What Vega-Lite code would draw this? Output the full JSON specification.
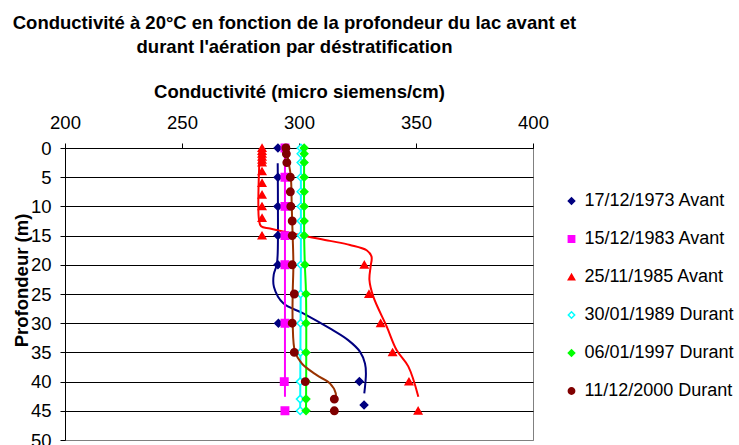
{
  "$schema": "https://vega.github.io/schema/vega-lite/v6.json",
  "autosize": {"type": "none"},
  "padding": {"left": 65, "top": 148, "right": 206, "bottom": 5},
  "width": 468,
  "height": 292,
  "background": "white",
  "title": {
    "text": ["Conductivité à 20°C en fonction de la profondeur du lac avant et", "durant l'aération par déstratification"],
    "font": "Liberation Sans",
    "fontSize": 18.5,
    "fontWeight": "bold",
    "color": "black",
    "anchor": "middle",
    "frame": "group",
    "lineHeight": 23.5,
    "offset": 26,
    "dx": -4.5
  },
  "datasets": {
    "markers": [
      {"series": "17/12/1973 Avant", "depth": 0, "value": 291},
      {"series": "17/12/1973 Avant", "depth": 5, "value": 291},
      {"series": "17/12/1973 Avant", "depth": 10, "value": 291},
      {"series": "17/12/1973 Avant", "depth": 15, "value": 291},
      {"series": "17/12/1973 Avant", "depth": 20, "value": 291},
      {"series": "17/12/1973 Avant", "depth": 30, "value": 291.2},
      {"series": "17/12/1973 Avant", "depth": 40, "value": 325.8},
      {"series": "17/12/1973 Avant", "depth": 44, "value": 327.8},
      {"series": "15/12/1983 Avant", "depth": 0, "value": 294},
      {"series": "15/12/1983 Avant", "depth": 5, "value": 294},
      {"series": "15/12/1983 Avant", "depth": 10, "value": 294},
      {"series": "15/12/1983 Avant", "depth": 15, "value": 294},
      {"series": "15/12/1983 Avant", "depth": 20, "value": 294},
      {"series": "15/12/1983 Avant", "depth": 30, "value": 294},
      {"series": "15/12/1983 Avant", "depth": 40, "value": 293.7},
      {"series": "15/12/1983 Avant", "depth": 45, "value": 294},
      {"series": "25/11/1985 Avant", "depth": 0, "value": 284.2},
      {"series": "25/11/1985 Avant", "depth": 0.5, "value": 284.2},
      {"series": "25/11/1985 Avant", "depth": 1, "value": 284.2},
      {"series": "25/11/1985 Avant", "depth": 1.5, "value": 284.2},
      {"series": "25/11/1985 Avant", "depth": 2, "value": 284.2},
      {"series": "25/11/1985 Avant", "depth": 2.5, "value": 284.2},
      {"series": "25/11/1985 Avant", "depth": 4, "value": 284.2},
      {"series": "25/11/1985 Avant", "depth": 6, "value": 284.2},
      {"series": "25/11/1985 Avant", "depth": 8, "value": 284.2},
      {"series": "25/11/1985 Avant", "depth": 10, "value": 284.2},
      {"series": "25/11/1985 Avant", "depth": 12, "value": 284.2},
      {"series": "25/11/1985 Avant", "depth": 15, "value": 284.2},
      {"series": "25/11/1985 Avant", "depth": 20, "value": 327.9},
      {"series": "25/11/1985 Avant", "depth": 25, "value": 329.9},
      {"series": "25/11/1985 Avant", "depth": 30, "value": 334.9},
      {"series": "25/11/1985 Avant", "depth": 35, "value": 340},
      {"series": "25/11/1985 Avant", "depth": 40, "value": 347},
      {"series": "25/11/1985 Avant", "depth": 45, "value": 350.9},
      {"series": "30/01/1989 Durant", "depth": 0, "value": 300.8},
      {"series": "30/01/1989 Durant", "depth": 1, "value": 300.8},
      {"series": "30/01/1989 Durant", "depth": 2.5, "value": 300.8},
      {"series": "30/01/1989 Durant", "depth": 5, "value": 300.8},
      {"series": "30/01/1989 Durant", "depth": 7.5, "value": 300.8},
      {"series": "30/01/1989 Durant", "depth": 10, "value": 300.8},
      {"series": "30/01/1989 Durant", "depth": 12.5, "value": 300.8},
      {"series": "30/01/1989 Durant", "depth": 15, "value": 300.8},
      {"series": "30/01/1989 Durant", "depth": 20, "value": 300.8},
      {"series": "30/01/1989 Durant", "depth": 25, "value": 300.7},
      {"series": "30/01/1989 Durant", "depth": 30, "value": 300.7},
      {"series": "30/01/1989 Durant", "depth": 35, "value": 300.6},
      {"series": "30/01/1989 Durant", "depth": 40, "value": 300.5},
      {"series": "30/01/1989 Durant", "depth": 43, "value": 300.5},
      {"series": "30/01/1989 Durant", "depth": 45, "value": 300.5},
      {"series": "06/01/1997 Durant", "depth": 0, "value": 302.2},
      {"series": "06/01/1997 Durant", "depth": 1, "value": 302.2},
      {"series": "06/01/1997 Durant", "depth": 2.5, "value": 302.2},
      {"series": "06/01/1997 Durant", "depth": 5, "value": 302.2},
      {"series": "06/01/1997 Durant", "depth": 7.5, "value": 302.2},
      {"series": "06/01/1997 Durant", "depth": 10, "value": 302.2},
      {"series": "06/01/1997 Durant", "depth": 12.5, "value": 302.2},
      {"series": "06/01/1997 Durant", "depth": 15, "value": 302.2},
      {"series": "06/01/1997 Durant", "depth": 20, "value": 302.5},
      {"series": "06/01/1997 Durant", "depth": 25, "value": 303},
      {"series": "06/01/1997 Durant", "depth": 30, "value": 303},
      {"series": "06/01/1997 Durant", "depth": 35, "value": 303},
      {"series": "06/01/1997 Durant", "depth": 40, "value": 303},
      {"series": "06/01/1997 Durant", "depth": 43, "value": 303},
      {"series": "06/01/1997 Durant", "depth": 45, "value": 303},
      {"series": "11/12/2000 Durant", "depth": 0, "value": 294.4},
      {"series": "11/12/2000 Durant", "depth": 1, "value": 294.6},
      {"series": "11/12/2000 Durant", "depth": 2.5, "value": 294.8},
      {"series": "11/12/2000 Durant", "depth": 5, "value": 296.3},
      {"series": "11/12/2000 Durant", "depth": 7.5, "value": 296.3},
      {"series": "11/12/2000 Durant", "depth": 10, "value": 296.5},
      {"series": "11/12/2000 Durant", "depth": 12.5, "value": 297.1},
      {"series": "11/12/2000 Durant", "depth": 15, "value": 297.1},
      {"series": "11/12/2000 Durant", "depth": 20, "value": 297.1},
      {"series": "11/12/2000 Durant", "depth": 25, "value": 298},
      {"series": "11/12/2000 Durant", "depth": 30, "value": 297.1},
      {"series": "11/12/2000 Durant", "depth": 35, "value": 298},
      {"series": "11/12/2000 Durant", "depth": 40, "value": 302.7},
      {"series": "11/12/2000 Durant", "depth": 43, "value": 315.1},
      {"series": "11/12/2000 Durant", "depth": 45, "value": 315.1}
    ],
    "lines": [
      {"curve": "17/12/1973 Avant", "depth": 2.6, "value": 290.9},
      {"curve": "17/12/1973 Avant", "depth": 10, "value": 291},
      {"curve": "17/12/1973 Avant", "depth": 18, "value": 290.9},
      {"curve": "17/12/1973 Avant", "depth": 20, "value": 290.5},
      {"curve": "17/12/1973 Avant", "depth": 21.7, "value": 289.2},
      {"curve": "17/12/1973 Avant", "depth": 23.8, "value": 289.3},
      {"curve": "17/12/1973 Avant", "depth": 26.6, "value": 293.3},
      {"curve": "17/12/1973 Avant", "depth": 28.3, "value": 301.8},
      {"curve": "17/12/1973 Avant", "depth": 30.9, "value": 313.2},
      {"curve": "17/12/1973 Avant", "depth": 32.9, "value": 321},
      {"curve": "17/12/1973 Avant", "depth": 34.9, "value": 326.1},
      {"curve": "17/12/1973 Avant", "depth": 36.9, "value": 328.2},
      {"curve": "17/12/1973 Avant", "depth": 38.6, "value": 328.6},
      {"curve": "17/12/1973 Avant", "depth": 42, "value": 327.9},
      {"curve": "15/12/1983 Avant", "depth": 0, "value": 294},
      {"curve": "15/12/1983 Avant", "depth": 20, "value": 294},
      {"curve": "15/12/1983 Avant", "depth": 42.6, "value": 294},
      {"curve": "25/11/1985 Avant", "depth": 0, "value": 283.3},
      {"curve": "25/11/1985 Avant", "depth": 12.3, "value": 282.9},
      {"curve": "25/11/1985 Avant", "depth": 13.4, "value": 283.8},
      {"curve": "25/11/1985 Avant", "depth": 13.8, "value": 287.6},
      {"curve": "25/11/1985 Avant", "depth": 14.9, "value": 300.4},
      {"curve": "25/11/1985 Avant", "depth": 15.9, "value": 313.2},
      {"curve": "25/11/1985 Avant", "depth": 16.6, "value": 321.8},
      {"curve": "25/11/1985 Avant", "depth": 17.5, "value": 328.9},
      {"curve": "25/11/1985 Avant", "depth": 18.6, "value": 331},
      {"curve": "25/11/1985 Avant", "depth": 20.3, "value": 330.6},
      {"curve": "25/11/1985 Avant", "depth": 22.6, "value": 330.1},
      {"curve": "25/11/1985 Avant", "depth": 25.5, "value": 331.8},
      {"curve": "25/11/1985 Avant", "depth": 30.6, "value": 337.5},
      {"curve": "25/11/1985 Avant", "depth": 34.6, "value": 341.7},
      {"curve": "25/11/1985 Avant", "depth": 37.4, "value": 346.7},
      {"curve": "25/11/1985 Avant", "depth": 42.6, "value": 351},
      {"curve": "30/01/1989 Durant", "depth": 0, "value": 300.8},
      {"curve": "30/01/1989 Durant", "depth": 20, "value": 300.8},
      {"curve": "30/01/1989 Durant", "depth": 35, "value": 300.6},
      {"curve": "30/01/1989 Durant", "depth": 45, "value": 300.5},
      {"curve": "06/01/1997 Durant", "depth": 0, "value": 302.2},
      {"curve": "06/01/1997 Durant", "depth": 15, "value": 302.2},
      {"curve": "06/01/1997 Durant", "depth": 20, "value": 302.5},
      {"curve": "06/01/1997 Durant", "depth": 25, "value": 303},
      {"curve": "06/01/1997 Durant", "depth": 45, "value": 303},
      {"curve": "11/12/2000 Durant", "depth": 0, "value": 294.4},
      {"curve": "11/12/2000 Durant", "depth": 2.1, "value": 295.4},
      {"curve": "11/12/2000 Durant", "depth": 4.9, "value": 296.5},
      {"curve": "11/12/2000 Durant", "depth": 10.1, "value": 296.9},
      {"curve": "11/12/2000 Durant", "depth": 15.1, "value": 297.3},
      {"curve": "11/12/2000 Durant", "depth": 20, "value": 297.6},
      {"curve": "11/12/2000 Durant", "depth": 25, "value": 297.3},
      {"curve": "11/12/2000 Durant", "depth": 30, "value": 297.3},
      {"curve": "11/12/2000 Durant", "depth": 34.9, "value": 298.3},
      {"curve": "11/12/2000 Durant", "depth": 36.9, "value": 301.2},
      {"curve": "11/12/2000 Durant", "depth": 38.9, "value": 307.6},
      {"curve": "11/12/2000 Durant", "depth": 40.3, "value": 313.2},
      {"curve": "11/12/2000 Durant", "depth": 42, "value": 315.7},
      {"curve": "11/12/2000 Durant", "depth": 43.4, "value": 315.4}
    ]
  },
  "encoding": {
    "x": {
      "field": "value",
      "type": "quantitative",
      "scale": {"domain": [200, 400], "nice": false, "zero": false},
      "axis": {
        "orient": "top",
        "values": [200, 250, 300, 350, 400],
        "grid": false,
        "title": "Conductivité (micro siemens/cm)",
        "titleFont": "Liberation Sans",
        "titleFontSize": 18.5,
        "titleFontWeight": "bold",
        "titleColor": "black",
        "titleBaseline": "alphabetic",
        "titleY": -51,
        "titleAnchor": "middle",
        "labelFont": "Liberation Sans",
        "labelFontSize": 18.5,
        "labelColor": "black",
        "labelBaseline": "alphabetic",
        "labelPadding": 15,
        "labelFlush": false,
        "labelOverlap": false,
        "tickSize": 5,
        "tickColor": "black",
        "domainColor": "black"
      }
    },
    "y": {
      "field": "depth",
      "type": "quantitative",
      "scale": {"domain": [0, 50], "nice": false, "zero": false, "reverse": true},
      "axis": {
        "values": [0, 5, 10, 15, 20, 25, 30, 35, 40, 45, 50],
        "grid": true,
        "gridColor": {"condition": {"test": "datum.value == 50", "value": "#808080"}, "value": "black"},
        "gridOpacity": 1,
        "title": "Profondeur (m)",
        "titleFont": "Liberation Sans",
        "titleFontSize": 18.5,
        "titleFontWeight": "bold",
        "titleColor": "black",
        "titleBaseline": "alphabetic",
        "titleAlign": "center",
        "titleAngle": -90,
        "titleX": -38,
        "titleY": 132,
        "labelFont": "Liberation Sans",
        "labelFontSize": 18.5,
        "labelColor": "black",
        "labelPadding": 9,
        "labelFlush": false,
        "labelOverlap": false,
        "tickSize": 5,
        "tickColor": "black",
        "domainColor": "black"
      }
    }
  },
  "layer": [
    {
      "data": {"name": "lines"},
      "mark": {"type": "line", "strokeWidth": 2, "interpolate": "catmull-rom"},
      "encoding": {
        "order": {"field": "depth", "type": "quantitative"},
        "color": {
          "field": "curve",
          "type": "nominal",
          "legend": null,
          "scale": {
            "range": ["#00FF00", "#993300", "#FF00FF", "#000080", "#FF0000", "#00FFFF"]
          }
        }
      }
    },
    {
      "data": {"name": "markers"},
      "mark": {"type": "point", "filled": true, "size": 55, "strokeWidth": 1.5, "opacity": 1},
      "encoding": {
        "fill": {
          "field": "series",
          "type": "nominal",
          "scale": {
            "domain": ["17/12/1973 Avant", "15/12/1983 Avant", "25/11/1985 Avant", "30/01/1989 Durant", "06/01/1997 Durant", "11/12/2000 Durant"],
            "range": ["#000080", "#FF00FF", "#FF0000", "#FFFFFF", "#00FF00", "#800000"]
          },
          "legend": {"title": null, "orient": "none", "legendX": 497.5, "legendY": 44}
        },
        "stroke": {
          "field": "series",
          "type": "nominal",
          "scale": {
            "domain": ["17/12/1973 Avant", "15/12/1983 Avant", "25/11/1985 Avant", "30/01/1989 Durant", "06/01/1997 Durant", "11/12/2000 Durant"],
            "range": ["#000080", "#FF00FF", "#FF0000", "#00FFFF", "#00FF00", "#800000"]
          },
          "legend": {"title": null, "orient": "none", "legendX": 497.5, "legendY": 44}
        },
        "shape": {
          "field": "series",
          "type": "nominal",
          "scale": {
            "domain": ["17/12/1973 Avant", "15/12/1983 Avant", "25/11/1985 Avant", "30/01/1989 Durant", "06/01/1997 Durant", "11/12/2000 Durant"],
            "range": ["diamond", "square", "triangle-up", "diamond", "diamond", "circle"]
          },
          "legend": {"title": null, "orient": "none", "legendX": 497.5, "legendY": 44}
        }
      }
    }
  ],
  "config": {
    "font": "Liberation Sans",
    "view": {"stroke": "#808080", "strokeWidth": 1},
    "legend": {
      "padding": 0,
      "labelFont": "Liberation Sans",
      "labelFontSize": 18,
      "labelColor": "black",
      "labelLimit": 400,
      "labelOffset": 4,
      "rowPadding": 20,
      "symbolSize": 40,
      "symbolStrokeWidth": 1.5
    }
  }
}
